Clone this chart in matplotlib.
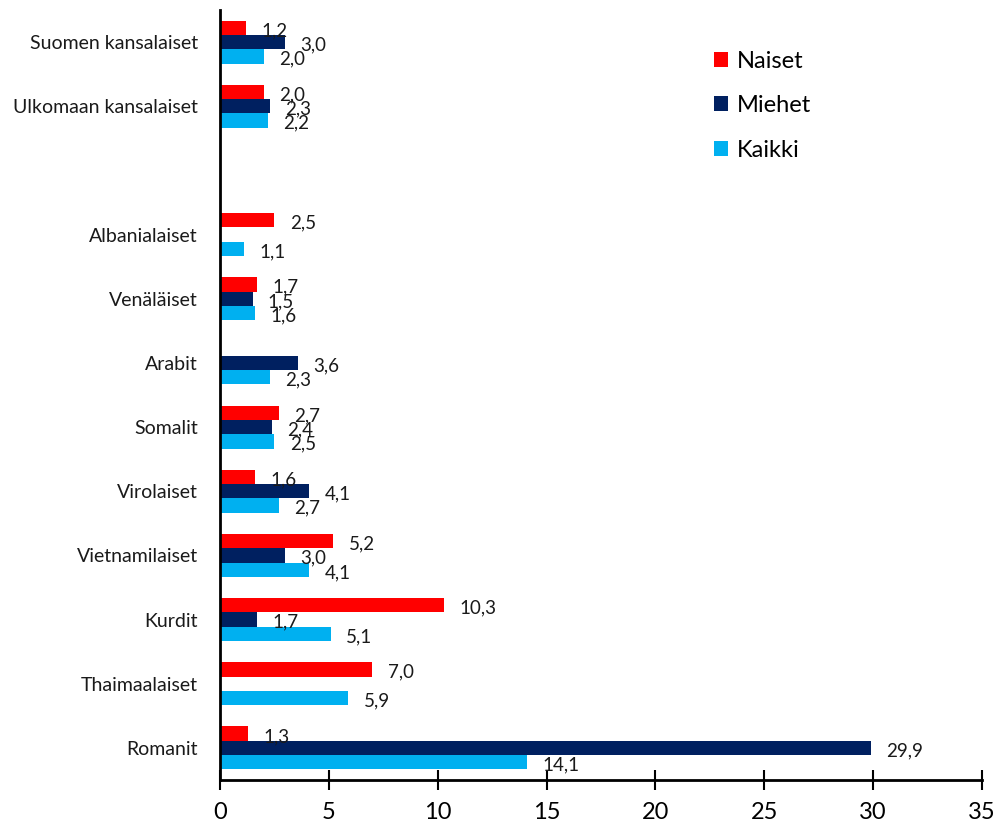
import numpy as np
import matplotlib
matplotlib.use("Agg")
import matplotlib.pyplot as plt

plt.rcParams['font.family'] = ['Lato', 'DejaVu Sans']

# data (bottom to top), empty string = gap row
categories = ["Romanit", "Thaimaalaiset", "Kurdit", "Vietnamilaiset", "Virolaiset",
              "Somalit", "Arabit", "Venäläiset", "Albanialaiset", "",
              "Ulkomaan kansalaiset", "Suomen kansalaiset"]
naiset = [1.3, 7.0, 10.3, 5.2, 1.6, 2.7, np.nan, 1.7, 2.5, np.nan, 2.0, 1.2]
miehet = [29.9, np.nan, 1.7, 3.0, 4.1, 2.4, 3.6, 1.5, np.nan, np.nan, 2.3, 3.0]
kaikki = [14.1, 5.9, 5.1, 4.1, 2.7, 2.5, 2.3, 1.6, 1.1, np.nan, 2.2, 2.0]

series = [("Naiset", naiset, "#FF0000", 1),
          ("Miehet", miehet, "#002060", 0),
          ("Kaikki", kaikki, "#00B0F0", -1)]

fig = plt.figure(figsize=(9.96, 8.26), dpi=100)
ax = fig.add_axes([220/996, 46/826, 762/996, 770/826])

y = np.arange(len(categories))
h = 0.223

for name, vals, col, off in series:
    ax.barh(y + off*h, vals, height=h, color=col, label=name)
    for yi, v in zip(y, vals):
        if np.isnan(v):
            continue
        ax.annotate(f"{v:.1f}".replace('.', ','), (v, yi + off*h),
                    xytext=(11, -2), textcoords="offset points",
                    ha="left", va="center", fontsize=13.5, color="#1a1a1a")

ax.set_xlim(0, 35)
ax.set_ylim(-0.5, 11.5)
ax.set_xticks(range(0, 36, 5))
ax.set_yticks(y)
ax.set_yticklabels(categories, fontsize=14, color="#1a1a1a")
ax.tick_params(axis='y', length=0, pad=16)
ax.tick_params(axis='x', direction='inout', length=14, width=1.5,
               labelsize=17, pad=9)
for s in ["top", "right"]:
    ax.spines[s].set_visible(False)
ax.spines["left"].set_linewidth(2)
ax.spines["bottom"].set_linewidth(2)

ax.legend(loc="upper left", bbox_to_anchor=(0.62, 0.975), frameon=False,
          fontsize=17, handlelength=0.6, handleheight=0.6, labelspacing=1.0,
          handletextpad=0.4)

plt.savefig("out.png", dpi=100)
